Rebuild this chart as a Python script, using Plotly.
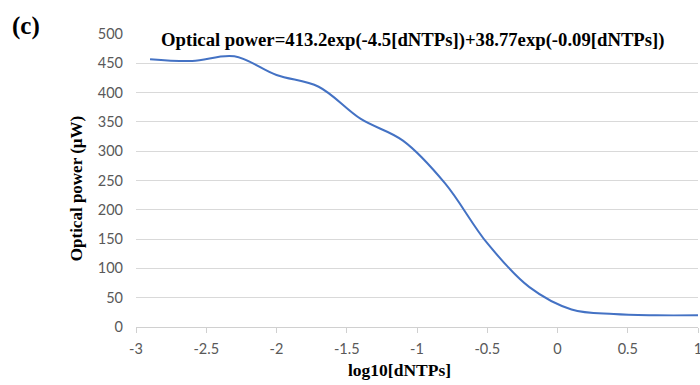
import plotly.graph_objects as go

log_dntps = [-2.9, -2.6, -2.3, -2.0, -1.7, -1.4, -1.1, -0.8, -0.5, -0.2, 0.1, 0.4, 0.7, 1.0]
optical_power = [457, 454, 462, 430, 410, 355, 318, 245, 143, 68, 30, 22, 20, 20]

x_ticks = [-3, -2.5, -2, -1.5, -1, -0.5, 0, 0.5, 1]
y_ticks = [0, 50, 100, 150, 200, 250, 300, 350, 400, 450, 500]

title_text = "Optical power=413.2exp(-4.5[dNTPs])+38.77exp(-0.09[dNTPs])"
panel_label = "(c)"
x_title = "log10[dNTPs]"
y_title = "Optical power (µW)"

serif = "Liberation Serif"
tick_font = dict(family="Lato", size=14.5, color="#595959")

fig = go.Figure()
fig.add_trace(go.Scatter(
    x=log_dntps, y=optical_power, mode="lines",
    line=dict(color="#4472C4", width=2, shape="spline", smoothing=1.0),
    showlegend=False, hoverinfo="x+y"))

fig.update_layout(
    template="none",
    width=700, height=385,
    margin=dict(l=136, r=2, t=34, b=58),
    paper_bgcolor="white", plot_bgcolor="white",
    xaxis=dict(range=[-3, 1], tickvals=x_ticks, ticktext=[f"{v:g}" for v in x_ticks],
               showgrid=False, zeroline=False, showline=True, linecolor="#d0d0d0", linewidth=1,
               ticks="outside", ticklen=5, tickcolor="#d0d0d0", tickfont=tick_font,
               automargin=False, ticklabelstandoff=4, ticklabeloverflow="allow"),
    yaxis=dict(range=[0, 500], tickvals=y_ticks, showgrid=True, gridcolor="#d9d9d9", gridwidth=1,
               zeroline=False, showline=False, ticks="", tickfont=tick_font,
               automargin=False, ticklabelstandoff=12),
    annotations=[
        dict(text="<b>" + title_text + "</b>", xref="paper", yref="paper", x=0.493, y=0.9795,
             xanchor="center", yanchor="middle", showarrow=False,
             font=dict(family=serif, size=18.7, color="black")),
        dict(text="<b>" + panel_label + "</b>", xref="paper", yref="paper", x=-0.1957, y=1.029,
             xanchor="center", yanchor="middle", showarrow=False,
             font=dict(family=serif, size=25, color="black")),
        dict(text="<b>" + y_title + "</b>", xref="paper", yref="paper", x=-0.1059, y=0.472,
             xanchor="center", yanchor="middle", showarrow=False, textangle=-90,
             font=dict(family=serif, size=17, color="black")),
        dict(text="<b>" + x_title + "</b>", xref="paper", yref="paper", x=0.468, y=-0.148,
             xanchor="center", yanchor="middle", showarrow=False,
             font=dict(family=serif, size=17.5, color="black")),
    ],
)

fig.write_html("out.html", config={"displayModeBar": False},
               post_script="document.body.style.margin='0px';document.body.style.overflow='hidden';")
